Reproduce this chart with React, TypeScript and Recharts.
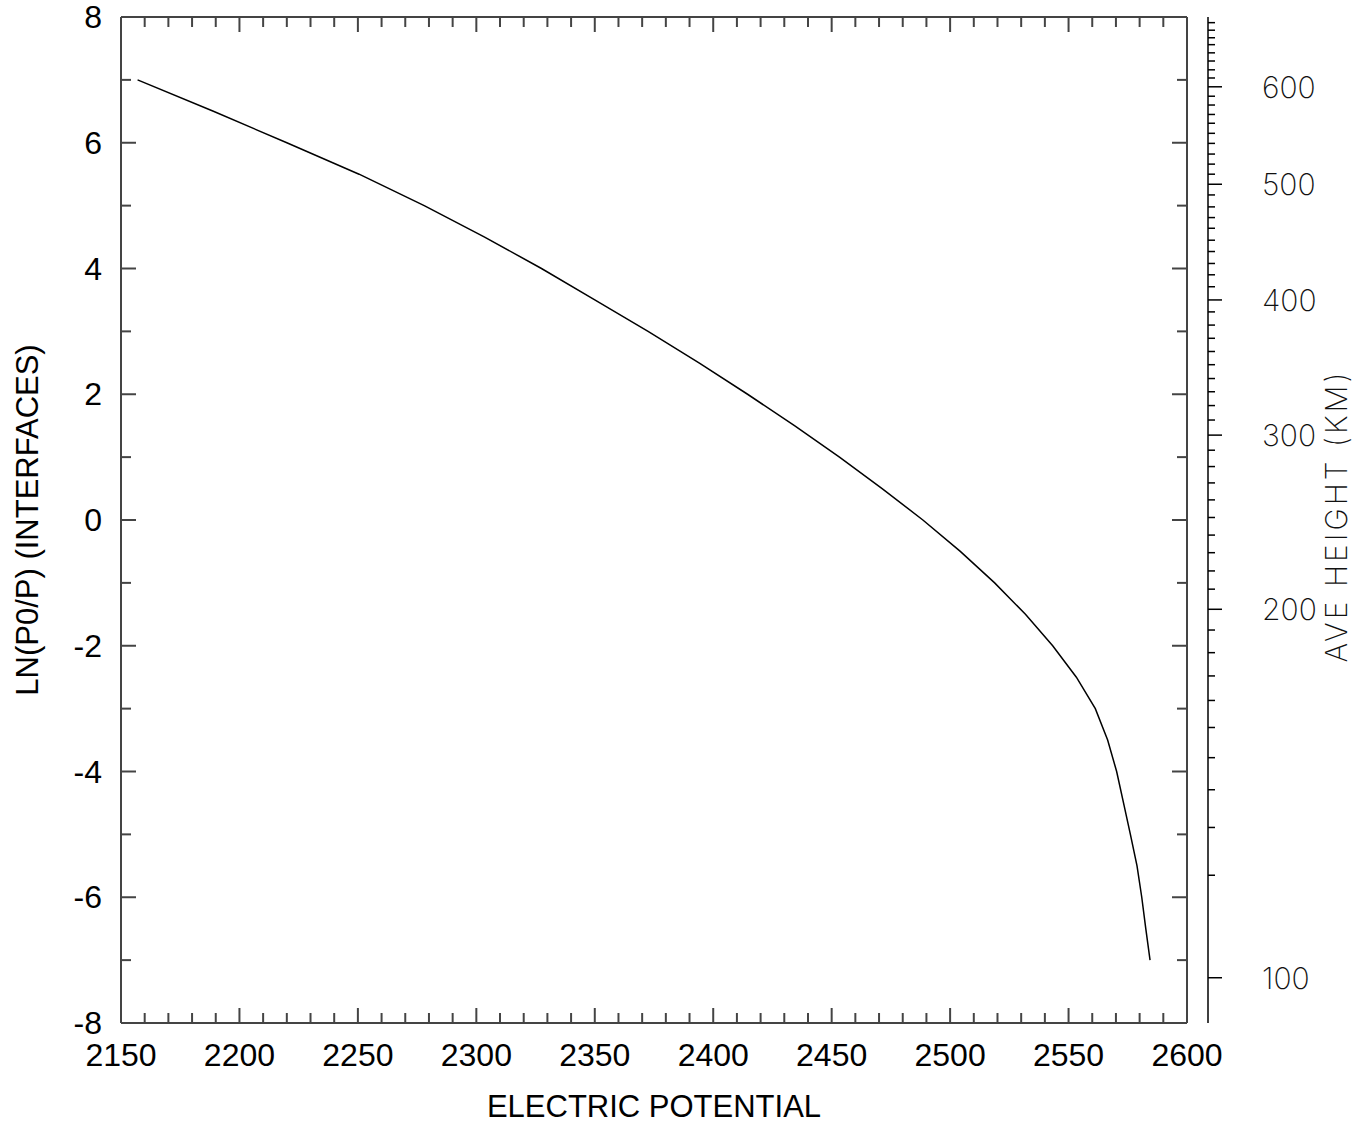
import { LineChart, Line, XAxis, YAxis } from "recharts"

// ln(P0/P) at each interface, and the electric potential
const lnP0P = [
  7, 6.5, 6, 5.5, 5, 4.5, 4, 3.5, 3, 2.5, 2, 1.5, 1, 0.5, 0, -0.5, -1, -1.5, -2,
  -2.5, -3, -3.5, -4, -4.5, -5, -5.5, -6, -6.5, -7,
]
const potential = [
  2157, 2189, 2220, 2250.5, 2278, 2303.5, 2327.5, 2350, 2372.5, 2394, 2414.5,
  2434.3, 2453.3, 2471.3, 2488.5, 2504.3, 2518.8, 2531.8, 2543.3, 2553.3,
  2561.3, 2566.5, 2570.3, 2573.2, 2576.1, 2578.9, 2580.9, 2582.6, 2584.4,
]

// average height axis (km) and where each tick sits on the ln(P0/P) scale
const heightKm = [
  100, 110, 120, 130, 140, 150, 160, 170, 180, 190, 200, 210, 220, 230, 240,
  250, 260, 270, 280, 290, 300, 310, 320, 330, 340, 350, 360, 370, 380, 390,
  400, 410, 420, 430, 440, 450, 460, 470, 480, 490, 500, 510, 520, 530, 540,
  550, 560, 570, 580, 590, 600, 610, 620, 630, 640, 650, 660, 670, 680,
]
const heightTickLn = [
  -7.28, -5.65, -4.89, -4.29, -3.78, -3.3, -2.87, -2.48, -2.11, -1.75, -1.42,
  -1.1, -0.81, -0.52, -0.24, 0.04, 0.32, 0.59, 0.85, 1.11, 1.35, 1.59, 1.82,
  2.04, 2.25, 2.47, 2.68, 2.89, 3.1, 3.31, 3.5, 3.71, 3.9, 4.08, 4.27, 4.45,
  4.64, 4.81, 4.98, 5.17, 5.34, 5.5, 5.66, 5.82, 5.99, 6.15, 6.31, 6.45, 6.6,
  6.74, 6.89, 7.03, 7.16, 7.3, 7.43, 7.56, 7.67, 7.79, 7.91,
]

const xTicks = Array.from({ length: 46 }, (_, i) => 2150 + i * 10)
const yTicks = Array.from({ length: 17 }, (_, i) => -8 + i)

const data = potential.map((p, i) => ({ potential: p, ln: lnP0P[i] }))

const FRAME = "#444"
const SANS = "'Liberation Sans', Arial, sans-serif"
const THIN = "Inter, 'Noto Sans', sans-serif"

function BottomTick({ x, y, payload }: any) {
  const v = payload.value
  const major = v % 50 === 0
  return (
    <g>
      <line x1={x} x2={x} y1={y} y2={y - (major ? 15 : 10)} stroke={FRAME} strokeWidth={2} />
      {major && (
        <text x={x} y={y + 43} textAnchor="middle" fontFamily={SANS} fontSize={32} fill="#000">
          {v}
        </text>
      )}
    </g>
  )
}

function TopTick({ x, y, payload }: any) {
  const major = payload.value % 50 === 0
  return <line x1={x} x2={x} y1={y} y2={y + (major ? 15 : 10)} stroke={FRAME} strokeWidth={2} />
}

function LeftTick({ x, y, payload }: any) {
  const v = payload.value
  const major = v % 2 === 0
  return (
    <g>
      <line x1={x} x2={x + (major ? 15 : 10)} y1={y} y2={y} stroke={FRAME} strokeWidth={2} />
      {major && (
        <text x={x - 19} y={y} textAnchor="end" dominantBaseline="central" fontFamily={SANS} fontSize={32} fill="#000">
          {v}
        </text>
      )}
    </g>
  )
}

function RightFrameTick({ x, y, payload }: any) {
  const major = payload.value % 2 === 0
  return <line x1={x} x2={x - (major ? 15 : 10)} y1={y} y2={y} stroke={FRAME} strokeWidth={2} />
}

function HeightTick({ x, y, payload }: any) {
  const km = heightKm[heightTickLn.indexOf(payload.value)]
  const major = km % 100 === 0
  return (
    <g>
      <line x1={x} x2={x + (major ? 14 : 7)} y1={y} y2={y} stroke="#000" strokeWidth={1.5} />
      {major && (
        <text x={x + 54} y={y} textAnchor="start" dominantBaseline="central" fontFamily={THIN} fontWeight={200} fontSize={30} fill="#111">
          {km}
        </text>
      )}
    </g>
  )
}

export default function App() {
  return (
    <>
      <style>{"body{margin:0}"}</style>
      <LineChart width={1365} height={1123} data={data} margin={{ top: 0, right: 0, bottom: 0, left: 0 }}>
        <XAxis
          xAxisId="b"
          type="number"
          dataKey="potential"
          domain={[2150, 2600]}
          ticks={xTicks}
          interval={0}
          allowDataOverflow
          height={100}
          tickSize={0}
          tickMargin={0}
          tickLine={false}
          axisLine={{ stroke: FRAME, strokeWidth: 2 }}
          tick={<BottomTick />}
          label={{
            content: ({ viewBox }: any) => (
              <text x={viewBox.x + viewBox.width / 2} y={1117} textAnchor="middle" fontFamily={SANS} fontSize={31} fill="#000">
                ELECTRIC POTENTIAL
              </text>
            ),
          }}
        />
        <XAxis
          xAxisId="t"
          orientation="top"
          type="number"
          dataKey="potential"
          domain={[2150, 2600]}
          ticks={xTicks}
          interval={0}
          allowDataOverflow
          height={17}
          tickSize={0}
          tickMargin={0}
          tickLine={false}
          axisLine={{ stroke: FRAME, strokeWidth: 2 }}
          tick={<TopTick />}
        />
        <YAxis
          yAxisId="l"
          type="number"
          domain={[-8, 8]}
          ticks={yTicks}
          interval={0}
          width={121}
          tickSize={0}
          tickMargin={0}
          tickLine={false}
          axisLine={{ stroke: FRAME, strokeWidth: 2 }}
          tick={<LeftTick />}
          label={{
            content: ({ viewBox }: any) => {
              const cx = 27
              const cy = viewBox.y + viewBox.height / 2
              return (
                <text x={cx} y={cy} transform={`rotate(-90, ${cx}, ${cy})`} textAnchor="middle" dominantBaseline="central" fontFamily={SANS} fontSize={31} fill="#000">
                  LN(P0/P) (INTERFACES)
                </text>
              )
            },
          }}
        />
        <YAxis
          yAxisId="r1"
          orientation="right"
          type="number"
          domain={[-8, 8]}
          ticks={yTicks}
          interval={0}
          width={21}
          tickSize={0}
          tickMargin={0}
          tickLine={false}
          axisLine={{ stroke: FRAME, strokeWidth: 2 }}
          tick={<RightFrameTick />}
        />
        <YAxis
          yAxisId="r2"
          orientation="right"
          type="number"
          domain={[-8, 8]}
          ticks={heightTickLn}
          interval={0}
          width={157}
          tickSize={0}
          tickMargin={0}
          tickLine={false}
          axisLine={{ stroke: "#000", strokeWidth: 1.5 }}
          tick={<HeightTick />}
          label={{
            content: () => {
              const cx = 1336
              const cy = 516
              return (
                <text x={cx} y={cy} transform={`rotate(-90, ${cx}, ${cy})`} textAnchor="middle" dominantBaseline="central" fontFamily={THIN} fontWeight={200} fontSize={30} letterSpacing={3} fill="#111">
                  AVE HEIGHT (KM)
                </text>
              )
            },
          }}
        />
        <Line
          xAxisId="b"
          yAxisId="l"
          type="linear"
          dataKey="ln"
          stroke="#000"
          strokeWidth={1.5}
          dot={false}
          isAnimationActive={false}
        />
        {/* invisible copies so the other axes get their scales */}
        <Line xAxisId="t" yAxisId="r1" dataKey="ln" stroke="none" dot={false} activeDot={false} isAnimationActive={false} />
        <Line xAxisId="t" yAxisId="r2" dataKey="ln" stroke="none" dot={false} activeDot={false} isAnimationActive={false} />
      </LineChart>
    </>
  )
}
